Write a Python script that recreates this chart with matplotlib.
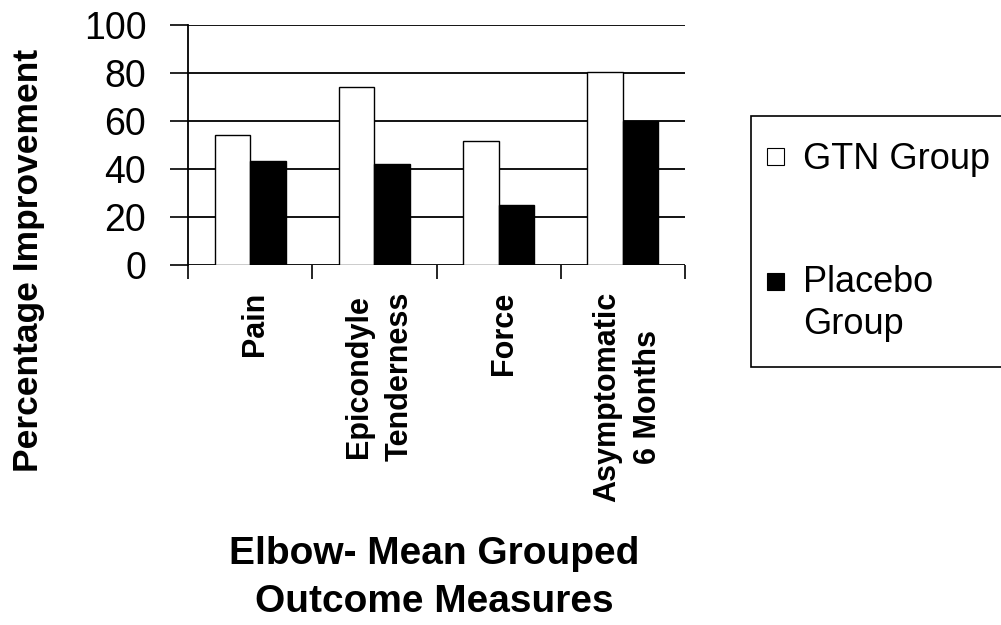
import matplotlib
matplotlib.use("Agg")
import matplotlib.pyplot as plt
from matplotlib.patches import Rectangle
import numpy as np

####> DATA <####
categories = ["Pain", "Epicondyle\nTenderness", "Force", "Asymptomatic\n6 Months"]
gtn_group = [54, 74, 51.5, 80.5]
placebo_group = [43.5, 42, 25, 60]
series_names = ["GTN Group", "Placebo\nGroup"]
y_ticks = [0, 20, 40, 60, 80, 100]

####> STYLE <####
plt.rcParams['font.family'] = ['Liberation Sans', 'DejaVu Sans']
W, H = 1001, 625

def fx(px):
    return px / W

def fy(py):
    return 1 - py / H

fig = plt.figure(figsize=(W / 100, H / 100), dpi=100)
ax = fig.add_axes([fx(188), fy(265), 497 / W, 240 / H])

x = np.arange(len(categories))
bw = 0.285
b1 = ax.bar(x - bw / 2, gtn_group, bw, color="white", edgecolor="black", linewidth=1.0, zorder=3)
b2 = ax.bar(x + bw / 2, placebo_group, bw, color="black", edgecolor="black", linewidth=1.0, zorder=3)

ax.set_xlim(-0.5, len(categories) - 0.5)
ax.set_ylim(0, 100)
ax.set_yticks(y_ticks)
ax.set_yticklabels([str(t) for t in y_ticks], fontsize=27)
ax.yaxis.grid(True, color="black", linewidth=1.3, zorder=0)
ax.set_axisbelow(True)

# category boundaries carry the ticks, labels sit in the middle
ax.set_xticks(np.arange(len(categories) + 1) - 0.5)
ax.set_xticklabels([])
ax.tick_params(axis="x", direction="out", length=10, width=1.2, color="black")
ax.tick_params(axis="y", direction="out", length=13, width=1.2, color="black", pad=17)
for xi, lab in zip(x, categories):
    ax.text(xi + 0.04, -11, lab, rotation=90, ha="center", va="top", fontsize=22,
            fontweight="bold", multialignment="center", linespacing=1.45)

for s in ["top", "right", "bottom"]:
    ax.spines[s].set_visible(False)
ax.spines["left"].set_linewidth(1.3)
ax.spines["left"].set_bounds(0, 100)

fig.text(fx(29), fy(260), "Percentage Improvement", rotation=90, ha="center", va="center",
         fontsize=25.5, fontweight="bold")
fig.text(fx(434), fy(578), "Elbow- Mean Grouped\nOutcome Measures", ha="center", va="center",
         fontsize=28, fontweight="bold", linespacing=1.45)

####> LEGEND (drawn by hand: marker sits beside the first text line) <####
fig.patches.append(Rectangle((fx(751), fy(367)), fx(1015) - fx(751), fy(116) - fy(367),
                             transform=fig.transFigure, facecolor="white", edgecolor="black",
                             linewidth=1.2, zorder=1))
leg_rows = [(157, 169), (281, 292)]
for (my, base), face, name in zip(leg_rows, ["white", "black"], series_names):
    fig.patches.append(Rectangle((fx(767), fy(my + 8.5)), 17 / W, 17 / H,
                                 transform=fig.transFigure, facecolor=face,
                                 edgecolor="black", linewidth=0.8, zorder=2))
    for k, line in enumerate(name.split("\n")):
        fig.text(fx(803), fy(base + 42 * k), line, ha="left", va="baseline", fontsize=26)

fig.savefig("out.png", dpi=100)
